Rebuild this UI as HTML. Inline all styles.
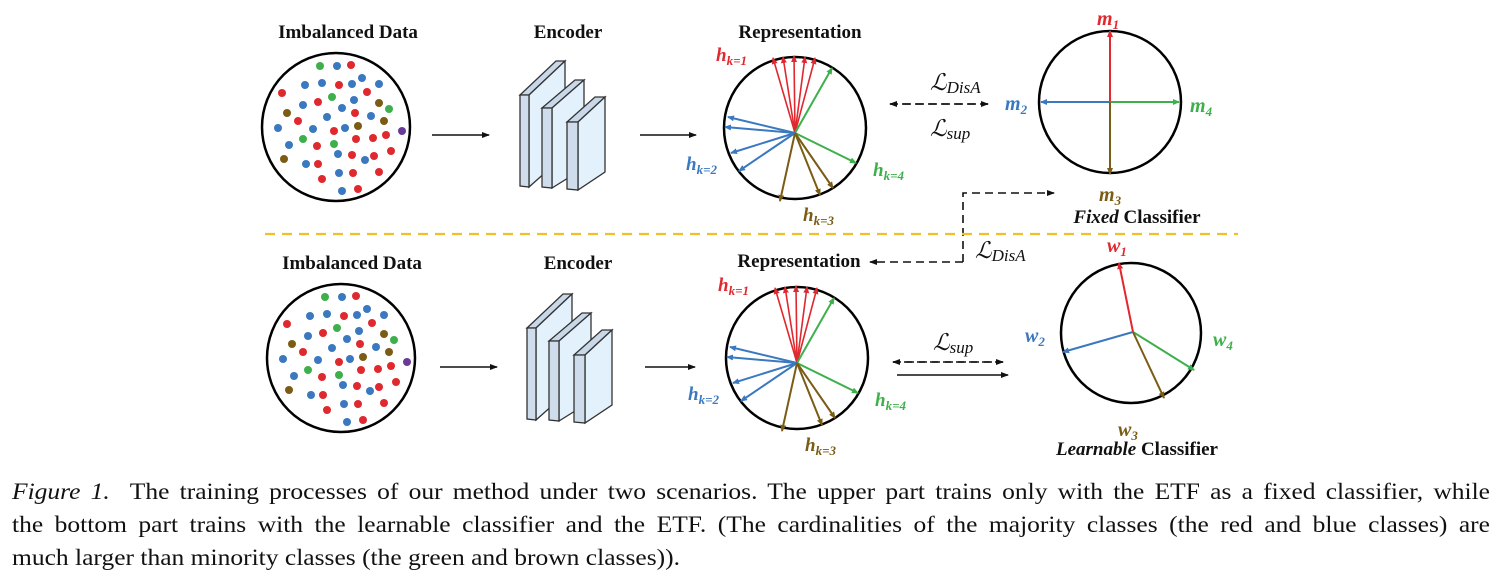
<!DOCTYPE html>
<html><head><meta charset="utf-8"><style>
body{margin:0;background:#fff;width:1502px;height:581px;overflow:hidden;position:relative}
svg{position:absolute;left:0;top:0}
.cap{position:absolute;left:12px;width:1478px;font-family:"Liberation Serif",serif;font-size:25.5px;color:#111;line-height:33px;white-space:nowrap;transform:scaleY(0.9);transform-origin:0 50%}
.j{text-align:justify;text-align-last:justify}
</style></head><body>
<svg width="1502" height="581" viewBox="0 0 1502 581" font-family="Liberation Serif, serif">
<defs>
<marker id="ak" markerWidth="8" markerHeight="8" refX="7" refY="4" orient="auto" markerUnits="userSpaceOnUse"><path d="M0,1 L8,4 L0,7 Z" fill="#111"/></marker>
<marker id="ar" markerWidth="7" markerHeight="7" refX="6" refY="3.5" orient="auto" markerUnits="userSpaceOnUse"><path d="M0,0.5 L7,3.5 L0,6.5 Z" fill="#e0282f"/></marker>
<marker id="ab" markerWidth="7" markerHeight="7" refX="6" refY="3.5" orient="auto" markerUnits="userSpaceOnUse"><path d="M0,0.5 L7,3.5 L0,6.5 Z" fill="#3a78c0"/></marker>
<marker id="ag" markerWidth="7" markerHeight="7" refX="6" refY="3.5" orient="auto" markerUnits="userSpaceOnUse"><path d="M0,0.5 L7,3.5 L0,6.5 Z" fill="#3db04b"/></marker>
<marker id="an" markerWidth="7" markerHeight="7" refX="6" refY="3.5" orient="auto" markerUnits="userSpaceOnUse"><path d="M0,0.5 L7,3.5 L0,6.5 Z" fill="#7a5c14"/></marker>
<g id="dots">
<circle cx="336" cy="127" r="74" fill="none" stroke="#000" stroke-width="2.5"/>
<g fill="#e0282f"><circle cx="351" cy="65" r="4"/><circle cx="339" cy="85" r="4"/><circle cx="282" cy="93" r="4"/><circle cx="367" cy="92" r="4"/><circle cx="318" cy="102" r="4"/><circle cx="355" cy="113" r="4"/><circle cx="298" cy="121" r="4"/><circle cx="334" cy="131" r="4"/><circle cx="356" cy="139" r="4"/><circle cx="373" cy="138" r="4"/><circle cx="386" cy="135" r="4"/><circle cx="317" cy="146" r="4"/><circle cx="391" cy="151" r="4"/><circle cx="352" cy="155" r="4"/><circle cx="374" cy="156" r="4"/><circle cx="318" cy="164" r="4"/><circle cx="322" cy="179" r="4"/><circle cx="353" cy="173" r="4"/><circle cx="379" cy="172" r="4"/><circle cx="358" cy="189" r="4"/></g>
<g fill="#3a78c0"><circle cx="337" cy="66" r="4"/><circle cx="305" cy="85" r="4"/><circle cx="322" cy="83" r="4"/><circle cx="352" cy="84" r="4"/><circle cx="362" cy="78" r="4"/><circle cx="379" cy="84" r="4"/><circle cx="303" cy="105" r="4"/><circle cx="354" cy="100" r="4"/><circle cx="342" cy="108" r="4"/><circle cx="371" cy="116" r="4"/><circle cx="327" cy="117" r="4"/><circle cx="278" cy="128" r="4"/><circle cx="313" cy="129" r="4"/><circle cx="345" cy="128" r="4"/><circle cx="289" cy="145" r="4"/><circle cx="338" cy="154" r="4"/><circle cx="365" cy="160" r="4"/><circle cx="306" cy="164" r="4"/><circle cx="339" cy="173" r="4"/><circle cx="342" cy="191" r="4"/></g>
<g fill="#3db04b"><circle cx="320" cy="66" r="4"/><circle cx="332" cy="97" r="4"/><circle cx="389" cy="109" r="4"/><circle cx="303" cy="139" r="4"/><circle cx="334" cy="144" r="4"/></g>
<g fill="#7a5c14"><circle cx="379" cy="103" r="4"/><circle cx="287" cy="113" r="4"/><circle cx="384" cy="121" r="4"/><circle cx="358" cy="126" r="4"/><circle cx="284" cy="159" r="4"/></g>
<circle cx="402" cy="131" r="4" fill="#6a3a9a"/>
</g>
<g id="enc" stroke="#333" stroke-width="1.3">
<polygon points="520,95 556,61 565,61 529,95" fill="#c8d8e8"/>
<polygon points="529,95 565,61 565,155 529,187" fill="#e2f1fc"/>
<polygon points="520,95 529,95 529,187 520,186" fill="#cfdceb"/>
<polygon points="542,108 575,80 584,80 552,108" fill="#c8d8e8"/>
<polygon points="552,108 584,80 584,168 552,188" fill="#e2f1fc"/>
<polygon points="542,108 552,108 552,188 542,187" fill="#cfdceb"/>
<polygon points="567,122 595,97 605,97 578,122" fill="#c8d8e8"/>
<polygon points="578,122 605,97 605,172 578,190" fill="#e2f1fc"/>
<polygon points="567,122 578,122 578,190 567,189" fill="#cfdceb"/>
</g>
<g id="rep">
<circle cx="795" cy="128" r="71" fill="none" stroke="#000" stroke-width="2.5"/>
<g stroke="#e0282f" stroke-width="1.6" marker-end="url(#ar)"><line x1="795" y1="133" x2="773" y2="58"/><line x1="795" y1="133" x2="783" y2="57"/><line x1="795" y1="133" x2="794" y2="56"/><line x1="795" y1="133" x2="805" y2="57"/><line x1="795" y1="133" x2="815" y2="58"/></g>
<g stroke="#3db04b" stroke-width="2" marker-end="url(#ag)"><line x1="795" y1="133" x2="832" y2="68"/><line x1="795" y1="133" x2="856" y2="163"/></g>
<g stroke="#3a78c0" stroke-width="2" marker-end="url(#ab)"><line x1="795" y1="133" x2="728" y2="117"/><line x1="795" y1="133" x2="725" y2="127"/><line x1="795" y1="133" x2="731" y2="153"/><line x1="795" y1="133" x2="739" y2="171"/></g>
<g stroke="#7a5c14" stroke-width="2" marker-end="url(#an)"><line x1="795" y1="133" x2="780" y2="201"/><line x1="795" y1="133" x2="820" y2="195"/><line x1="795" y1="133" x2="833" y2="188"/></g>
<g font-weight="bold" font-size="19"><text x="716" y="61" fill="#e0282f" font-style="italic">h<tspan font-size="13" dy="4" font-style="italic">k=1</tspan></text>
<text x="686" y="170" fill="#3a78c0" font-style="italic">h<tspan font-size="13" dy="4" font-style="italic">k=2</tspan></text>
<text x="873" y="176" fill="#3db04b" font-style="italic">h<tspan font-size="13" dy="4" font-style="italic">k=4</tspan></text>
<text x="803" y="221" fill="#7a5c14" font-style="italic">h<tspan font-size="13" dy="4" font-style="italic">k=3</tspan></text></g>
</g>
</defs>

<g font-weight="bold" font-size="19" text-anchor="middle" fill="#111">
<text x="348" y="38">Imbalanced Data</text><text x="568" y="38">Encoder</text><text x="800" y="38">Representation</text>
<text x="352" y="269">Imbalanced Data</text><text x="578" y="269">Encoder</text><text x="799" y="267">Representation</text>
</g>

<use href="#dots"/>
<use href="#dots" transform="translate(5,231)"/>
<use href="#enc"/>
<use href="#enc" transform="translate(7,233)"/>
<use href="#rep"/>
<use href="#rep" transform="translate(2,230)"/>

<g stroke="#111" stroke-width="1.6" fill="none">
<line x1="432" y1="135" x2="489" y2="135" marker-end="url(#ak)"/>
<line x1="640" y1="135" x2="696" y2="135" marker-end="url(#ak)"/>
<line x1="440" y1="367" x2="497" y2="367" marker-end="url(#ak)"/>
<line x1="645" y1="367" x2="695" y2="367" marker-end="url(#ak)"/>
<g stroke-dasharray="8,5"><line x1="890" y1="104" x2="988" y2="104" marker-end="url(#ak)"/><line x1="988" y1="104" x2="890" y2="104" marker-end="url(#ak)"/>
<line x1="893" y1="362" x2="1003" y2="362" marker-end="url(#ak)"/><line x1="1003" y1="362" x2="893" y2="362" marker-end="url(#ak)"/>
<polyline points="963,262 963,193 1054,193" marker-end="url(#ak)"/>
<line x1="963" y1="262" x2="870" y2="262" marker-end="url(#ak)"/></g>
<line x1="897" y1="375" x2="1008" y2="375" marker-end="url(#ak)"/>
</g>
<line x1="265" y1="234" x2="1238" y2="234" stroke="#f2bf2a" stroke-width="2.2" stroke-dasharray="10,7"/>

<g font-size="23" font-style="italic" fill="#111" font-family="Liberation Serif, serif">
<text x="930" y="90">ℒ<tspan font-size="17" dy="3">DisA</tspan></text>
<text x="930" y="136">ℒ<tspan font-size="17" dy="3">sup</tspan></text>
<text x="975" y="258">ℒ<tspan font-size="17" dy="3">DisA</tspan></text>
<text x="933" y="350">ℒ<tspan font-size="17" dy="3">sup</tspan></text>
</g>

<circle cx="1110" cy="102" r="71" fill="none" stroke="#000" stroke-width="2.5"/>
<line x1="1110" y1="102" x2="1110" y2="31" stroke="#e0282f" stroke-width="2" marker-end="url(#ar)"/>
<line x1="1110" y1="102" x2="1041" y2="102" stroke="#3a78c0" stroke-width="2" marker-end="url(#ab)"/>
<line x1="1110" y1="102" x2="1179" y2="102" stroke="#3db04b" stroke-width="2" marker-end="url(#ag)"/>
<line x1="1110" y1="102" x2="1110" y2="174" stroke="#7a5c14" stroke-width="2" marker-end="url(#an)"/>

<circle cx="1131" cy="333" r="70" fill="none" stroke="#000" stroke-width="2.5"/>
<line x1="1133" y1="332" x2="1119" y2="263" stroke="#e0282f" stroke-width="2" marker-end="url(#ar)"/>
<line x1="1133" y1="332" x2="1063" y2="352" stroke="#3a78c0" stroke-width="2" marker-end="url(#ab)"/>
<line x1="1133" y1="332" x2="1194" y2="370" stroke="#3db04b" stroke-width="2" marker-end="url(#ag)"/>
<line x1="1133" y1="332" x2="1164" y2="398" stroke="#7a5c14" stroke-width="2" marker-end="url(#an)"/>

<g font-weight="bold" font-style="italic" font-size="20">
<text x="1097" y="25" fill="#e0282f">m<tspan font-size="13" dy="4">1</tspan></text>
<text x="1005" y="110" fill="#3a78c0">m<tspan font-size="13" dy="4">2</tspan></text>
<text x="1190" y="112" fill="#3db04b">m<tspan font-size="13" dy="4">4</tspan></text>
<text x="1099" y="201" fill="#7a5c14">m<tspan font-size="13" dy="4">3</tspan></text>
<text x="1107" y="252" fill="#e0282f">w<tspan font-size="13" dy="4">1</tspan></text>
<text x="1025" y="342" fill="#3a78c0">w<tspan font-size="13" dy="4">2</tspan></text>
<text x="1213" y="346" fill="#3db04b">w<tspan font-size="13" dy="4">4</tspan></text>
<text x="1118" y="436" fill="#7a5c14">w<tspan font-size="13" dy="4">3</tspan></text>
</g>
<g font-weight="bold" font-size="19" text-anchor="middle" fill="#111">
<text x="1137" y="223"><tspan font-style="italic">Fixed</tspan> Classifier</text>
<text x="1137" y="455"><tspan font-style="italic">Learnable</tspan> Classifier</text>
</g>
</svg>
<div class="cap j" style="top:475px"><i>Figure 1.</i>&nbsp; The training processes of our method under two scenarios. The upper part trains only with the ETF as a fixed classifier, while</div>
<div class="cap j" style="top:508px">the bottom part trains with the learnable classifier and the ETF. (The cardinalities of the majority classes (the red and blue classes) are</div>
<div class="cap" style="top:541px">much larger than minority classes (the green and brown classes)).</div>
</body></html>
